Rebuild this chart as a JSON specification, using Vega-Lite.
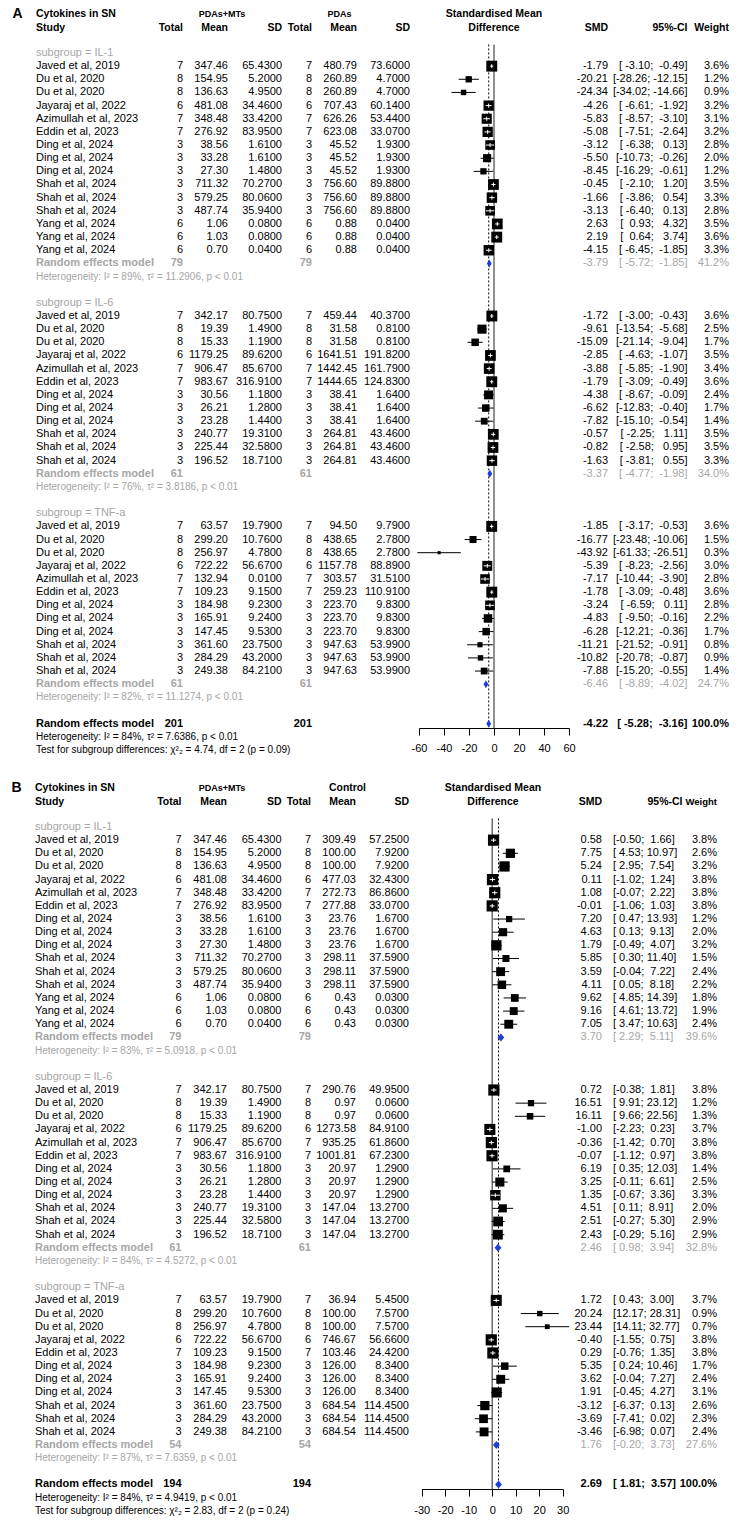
{
"$schema": "https://vega.github.io/schema/vega-lite/v6.json",
"padding": 0,
"spacing": 0,
"bounds": "flush",
"background": "white",
"config": {"view": {"stroke": null}, "text": {"font": "Liberation Sans", "baseline": "middle", "fontSize": 11}},
"datasets": {
"A": [
{"r":-2.95,"t":"cyt","l":"Cytokines in SN","pl":"A","g1":"PDAs+MTs","g2":"PDAs","fp":"Standardised Mean"},
{"r":-1.92,"t":"hdr","l":"Study","n1":"Total","m1":"Mean","s1":"SD","n2":"Total","m2":"Mean","s2":"SD","fp":"Difference","smd":"SMD","ci":"95%-CI","w":"Weight"},
{"r":0,"t":"sub","l":"subgroup = IL-1"},
{"r":1,"t":"study","l":"Javed et al, 2019","n1":7,"m1":"347.46","s1":"65.4300","n2":7,"m2":"480.79","s2":"73.6000","smd":"-1.79","ci":"[\u00a0-3.10;\u00a0\u00a0-0.49]","w":"3.6%","est":-1.79,"lo":-3.10,"hi":-0.49,"wt":3.6},
{"r":2,"t":"study","l":"Du et al, 2020","n1":8,"m1":"154.95","s1":"5.2000","n2":8,"m2":"260.89","s2":"4.7000","smd":"-20.21","ci":"[-28.26;\u00a0-12.15]","w":"1.2%","est":-20.21,"lo":-28.26,"hi":-12.15,"wt":1.2},
{"r":3,"t":"study","l":"Du et al, 2020","n1":8,"m1":"136.63","s1":"4.9500","n2":8,"m2":"260.89","s2":"4.7000","smd":"-24.34","ci":"[-34.02;\u00a0-14.66]","w":"0.9%","est":-24.34,"lo":-34.02,"hi":-14.66,"wt":0.9},
{"r":4,"t":"study","l":"Jayaraj et al, 2022","n1":6,"m1":"481.08","s1":"34.4600","n2":6,"m2":"707.43","s2":"60.1400","smd":"-4.26","ci":"[\u00a0-6.61;\u00a0\u00a0-1.92]","w":"3.2%","est":-4.26,"lo":-6.61,"hi":-1.92,"wt":3.2},
{"r":5,"t":"study","l":"Azimullah et al, 2023","n1":7,"m1":"348.48","s1":"33.4200","n2":7,"m2":"626.26","s2":"53.4400","smd":"-5.83","ci":"[\u00a0-8.57;\u00a0\u00a0-3.10]","w":"3.1%","est":-5.83,"lo":-8.57,"hi":-3.10,"wt":3.1},
{"r":6,"t":"study","l":"Eddin et al, 2023","n1":7,"m1":"276.92","s1":"83.9500","n2":7,"m2":"623.08","s2":"33.0700","smd":"-5.08","ci":"[\u00a0-7.51;\u00a0\u00a0-2.64]","w":"3.2%","est":-5.08,"lo":-7.51,"hi":-2.64,"wt":3.2},
{"r":7,"t":"study","l":"Ding et al, 2024","n1":3,"m1":"38.56","s1":"1.6100","n2":3,"m2":"45.52","s2":"1.9300","smd":"-3.12","ci":"[\u00a0-6.38;\u00a0\u00a0\u00a00.13]","w":"2.8%","est":-3.12,"lo":-6.38,"hi":0.13,"wt":2.8},
{"r":8,"t":"study","l":"Ding et al, 2024","n1":3,"m1":"33.28","s1":"1.6100","n2":3,"m2":"45.52","s2":"1.9300","smd":"-5.50","ci":"[-10.73;\u00a0\u00a0-0.26]","w":"2.0%","est":-5.50,"lo":-10.73,"hi":-0.26,"wt":2.0},
{"r":9,"t":"study","l":"Ding et al, 2024","n1":3,"m1":"27.30","s1":"1.4800","n2":3,"m2":"45.52","s2":"1.9300","smd":"-8.45","ci":"[-16.29;\u00a0\u00a0-0.61]","w":"1.2%","est":-8.45,"lo":-16.29,"hi":-0.61,"wt":1.2},
{"r":10,"t":"study","l":"Shah et al, 2024","n1":3,"m1":"711.32","s1":"70.2700","n2":3,"m2":"756.60","s2":"89.8800","smd":"-0.45","ci":"[\u00a0-2.10;\u00a0\u00a0\u00a01.20]","w":"3.5%","est":-0.45,"lo":-2.10,"hi":1.20,"wt":3.5},
{"r":11,"t":"study","l":"Shah et al, 2024","n1":3,"m1":"579.25","s1":"80.0600","n2":3,"m2":"756.60","s2":"89.8800","smd":"-1.66","ci":"[\u00a0-3.86;\u00a0\u00a0\u00a00.54]","w":"3.3%","est":-1.66,"lo":-3.86,"hi":0.54,"wt":3.3},
{"r":12,"t":"study","l":"Shah et al, 2024","n1":3,"m1":"487.74","s1":"35.9400","n2":3,"m2":"756.60","s2":"89.8800","smd":"-3.13","ci":"[\u00a0-6.40;\u00a0\u00a0\u00a00.13]","w":"2.8%","est":-3.13,"lo":-6.40,"hi":0.13,"wt":2.8},
{"r":13,"t":"study","l":"Yang et al, 2024","n1":6,"m1":"1.06","s1":"0.0800","n2":6,"m2":"0.88","s2":"0.0400","smd":"2.63","ci":"[\u00a0\u00a00.93;\u00a0\u00a0\u00a04.32]","w":"3.5%","est":2.63,"lo":0.93,"hi":4.32,"wt":3.5},
{"r":14,"t":"study","l":"Yang et al, 2024","n1":6,"m1":"1.03","s1":"0.0800","n2":6,"m2":"0.88","s2":"0.0400","smd":"2.19","ci":"[\u00a0\u00a00.64;\u00a0\u00a0\u00a03.74]","w":"3.6%","est":2.19,"lo":0.64,"hi":3.74,"wt":3.6},
{"r":15,"t":"study","l":"Yang et al, 2024","n1":6,"m1":"0.70","s1":"0.0400","n2":6,"m2":"0.88","s2":"0.0400","smd":"-4.15","ci":"[\u00a0-6.45;\u00a0\u00a0-1.85]","w":"3.3%","est":-4.15,"lo":-6.45,"hi":-1.85,"wt":3.3},
{"r":16,"t":"pool","l":"Random effects model","n1":79,"n2":79,"smd":"-3.79","ci":"[\u00a0-5.72;\u00a0\u00a0-1.85]","w":"41.2%","est":-3.79,"lo":-5.72,"hi":-1.85},
{"r":17,"t":"het","l":"Heterogeneity: I² = 89%, τ² = 11.2906, p < 0.01"},
{"r":19,"t":"sub","l":"subgroup = IL-6"},
{"r":20,"t":"study","l":"Javed et al, 2019","n1":7,"m1":"342.17","s1":"80.7500","n2":7,"m2":"459.44","s2":"40.3700","smd":"-1.72","ci":"[\u00a0-3.00;\u00a0\u00a0-0.43]","w":"3.6%","est":-1.72,"lo":-3.00,"hi":-0.43,"wt":3.6},
{"r":21,"t":"study","l":"Du et al, 2020","n1":8,"m1":"19.39","s1":"1.4900","n2":8,"m2":"31.58","s2":"0.8100","smd":"-9.61","ci":"[-13.54;\u00a0\u00a0-5.68]","w":"2.5%","est":-9.61,"lo":-13.54,"hi":-5.68,"wt":2.5},
{"r":22,"t":"study","l":"Du et al, 2020","n1":8,"m1":"15.33","s1":"1.1900","n2":8,"m2":"31.58","s2":"0.8100","smd":"-15.09","ci":"[-21.14;\u00a0\u00a0-9.04]","w":"1.7%","est":-15.09,"lo":-21.14,"hi":-9.04,"wt":1.7},
{"r":23,"t":"study","l":"Jayaraj et al, 2022","n1":6,"m1":"1179.25","s1":"89.6200","n2":6,"m2":"1641.51","s2":"191.8200","smd":"-2.85","ci":"[\u00a0-4.63;\u00a0\u00a0-1.07]","w":"3.5%","est":-2.85,"lo":-4.63,"hi":-1.07,"wt":3.5},
{"r":24,"t":"study","l":"Azimullah et al, 2023","n1":7,"m1":"906.47","s1":"85.6700","n2":7,"m2":"1442.45","s2":"161.7900","smd":"-3.88","ci":"[\u00a0-5.85;\u00a0\u00a0-1.90]","w":"3.4%","est":-3.88,"lo":-5.85,"hi":-1.90,"wt":3.4},
{"r":25,"t":"study","l":"Eddin et al, 2023","n1":7,"m1":"983.67","s1":"316.9100","n2":7,"m2":"1444.65","s2":"124.8300","smd":"-1.79","ci":"[\u00a0-3.09;\u00a0\u00a0-0.49]","w":"3.6%","est":-1.79,"lo":-3.09,"hi":-0.49,"wt":3.6},
{"r":26,"t":"study","l":"Ding et al, 2024","n1":3,"m1":"30.56","s1":"1.1800","n2":3,"m2":"38.41","s2":"1.6400","smd":"-4.38","ci":"[\u00a0-8.67;\u00a0\u00a0-0.09]","w":"2.4%","est":-4.38,"lo":-8.67,"hi":-0.09,"wt":2.4},
{"r":27,"t":"study","l":"Ding et al, 2024","n1":3,"m1":"26.21","s1":"1.2800","n2":3,"m2":"38.41","s2":"1.6400","smd":"-6.62","ci":"[-12.83;\u00a0\u00a0-0.40]","w":"1.7%","est":-6.62,"lo":-12.83,"hi":-0.40,"wt":1.7},
{"r":28,"t":"study","l":"Ding et al, 2024","n1":3,"m1":"23.28","s1":"1.4400","n2":3,"m2":"38.41","s2":"1.6400","smd":"-7.82","ci":"[-15.10;\u00a0\u00a0-0.54]","w":"1.4%","est":-7.82,"lo":-15.10,"hi":-0.54,"wt":1.4},
{"r":29,"t":"study","l":"Shah et al, 2024","n1":3,"m1":"240.77","s1":"19.3100","n2":3,"m2":"264.81","s2":"43.4600","smd":"-0.57","ci":"[\u00a0-2.25;\u00a0\u00a0\u00a01.11]","w":"3.5%","est":-0.57,"lo":-2.25,"hi":1.11,"wt":3.5},
{"r":30,"t":"study","l":"Shah et al, 2024","n1":3,"m1":"225.44","s1":"32.5800","n2":3,"m2":"264.81","s2":"43.4600","smd":"-0.82","ci":"[\u00a0-2.58;\u00a0\u00a0\u00a00.95]","w":"3.5%","est":-0.82,"lo":-2.58,"hi":0.95,"wt":3.5},
{"r":31,"t":"study","l":"Shah et al, 2024","n1":3,"m1":"196.52","s1":"18.7100","n2":3,"m2":"264.81","s2":"43.4600","smd":"-1.63","ci":"[\u00a0-3.81;\u00a0\u00a0\u00a00.55]","w":"3.3%","est":-1.63,"lo":-3.81,"hi":0.55,"wt":3.3},
{"r":32,"t":"pool","l":"Random effects model","n1":61,"n2":61,"smd":"-3.37","ci":"[\u00a0-4.77;\u00a0\u00a0-1.98]","w":"34.0%","est":-3.37,"lo":-4.77,"hi":-1.98},
{"r":33,"t":"het","l":"Heterogeneity: I² = 76%, τ² = 3.8186, p < 0.01"},
{"r":35,"t":"sub","l":"subgroup = TNF-a"},
{"r":36,"t":"study","l":"Javed et al, 2019","n1":7,"m1":"63.57","s1":"19.7900","n2":7,"m2":"94.50","s2":"9.7900","smd":"-1.85","ci":"[\u00a0-3.17;\u00a0\u00a0-0.53]","w":"3.6%","est":-1.85,"lo":-3.17,"hi":-0.53,"wt":3.6},
{"r":37,"t":"study","l":"Du et al, 2020","n1":8,"m1":"299.20","s1":"10.7600","n2":8,"m2":"438.65","s2":"2.7800","smd":"-16.77","ci":"[-23.48;\u00a0-10.06]","w":"1.5%","est":-16.77,"lo":-23.48,"hi":-10.06,"wt":1.5},
{"r":38,"t":"study","l":"Du et al, 2020","n1":8,"m1":"256.97","s1":"4.7800","n2":8,"m2":"438.65","s2":"2.7800","smd":"-43.92","ci":"[-61.33;\u00a0-26.51]","w":"0.3%","est":-43.92,"lo":-61.33,"hi":-26.51,"wt":0.3},
{"r":39,"t":"study","l":"Jayaraj et al, 2022","n1":6,"m1":"722.22","s1":"56.6700","n2":6,"m2":"1157.78","s2":"88.8900","smd":"-5.39","ci":"[\u00a0-8.23;\u00a0\u00a0-2.56]","w":"3.0%","est":-5.39,"lo":-8.23,"hi":-2.56,"wt":3.0},
{"r":40,"t":"study","l":"Azimullah et al, 2023","n1":7,"m1":"132.94","s1":"0.0100","n2":7,"m2":"303.57","s2":"31.5100","smd":"-7.17","ci":"[-10.44;\u00a0\u00a0-3.90]","w":"2.8%","est":-7.17,"lo":-10.44,"hi":-3.90,"wt":2.8},
{"r":41,"t":"study","l":"Eddin et al, 2023","n1":7,"m1":"109.23","s1":"9.1500","n2":7,"m2":"259.23","s2":"110.9100","smd":"-1.78","ci":"[\u00a0-3.09;\u00a0\u00a0-0.48]","w":"3.6%","est":-1.78,"lo":-3.09,"hi":-0.48,"wt":3.6},
{"r":42,"t":"study","l":"Ding et al, 2024","n1":3,"m1":"184.98","s1":"9.2300","n2":3,"m2":"223.70","s2":"9.8300","smd":"-3.24","ci":"[\u00a0-6.59;\u00a0\u00a0\u00a00.11]","w":"2.8%","est":-3.24,"lo":-6.59,"hi":0.11,"wt":2.8},
{"r":43,"t":"study","l":"Ding et al, 2024","n1":3,"m1":"165.91","s1":"9.2400","n2":3,"m2":"223.70","s2":"9.8300","smd":"-4.83","ci":"[\u00a0-9.50;\u00a0\u00a0-0.16]","w":"2.2%","est":-4.83,"lo":-9.50,"hi":-0.16,"wt":2.2},
{"r":44,"t":"study","l":"Ding et al, 2024","n1":3,"m1":"147.45","s1":"9.5300","n2":3,"m2":"223.70","s2":"9.8300","smd":"-6.28","ci":"[-12.21;\u00a0\u00a0-0.36]","w":"1.7%","est":-6.28,"lo":-12.21,"hi":-0.36,"wt":1.7},
{"r":45,"t":"study","l":"Shah et al, 2024","n1":3,"m1":"361.60","s1":"23.7500","n2":3,"m2":"947.63","s2":"53.9900","smd":"-11.21","ci":"[-21.52;\u00a0\u00a0-0.91]","w":"0.8%","est":-11.21,"lo":-21.52,"hi":-0.91,"wt":0.8},
{"r":46,"t":"study","l":"Shah et al, 2024","n1":3,"m1":"284.29","s1":"43.2000","n2":3,"m2":"947.63","s2":"53.9900","smd":"-10.82","ci":"[-20.78;\u00a0\u00a0-0.87]","w":"0.9%","est":-10.82,"lo":-20.78,"hi":-0.87,"wt":0.9},
{"r":47,"t":"study","l":"Shah et al, 2024","n1":3,"m1":"249.38","s1":"84.2100","n2":3,"m2":"947.63","s2":"53.9900","smd":"-7.88","ci":"[-15.20;\u00a0\u00a0-0.55]","w":"1.4%","est":-7.88,"lo":-15.20,"hi":-0.55,"wt":1.4},
{"r":48,"t":"pool","l":"Random effects model","n1":61,"n2":61,"smd":"-6.46","ci":"[\u00a0-8.89;\u00a0\u00a0-4.02]","w":"24.7%","est":-6.46,"lo":-8.89,"hi":-4.02},
{"r":49,"t":"het","l":"Heterogeneity: I² = 82%, τ² = 11.1274, p < 0.01"},
{"r":51,"t":"all","l":"Random effects model","n1":201,"n2":201,"smd":"-4.22","ci":"[\u00a0-5.28;\u00a0\u00a0-3.16]","w":"100.0%","est":-4.22,"lo":-5.28,"hi":-3.16},
{"r":52,"t":"allhet","l":"Heterogeneity: I² = 84%, τ² = 7.6386, p < 0.01"},
{"r":53,"t":"test","l":"Test for subgroup differences: χ²₂ = 4.74, df = 2 (p = 0.09)"}
],
"B": [
{"r":-2.95,"t":"cyt","l":"Cytokines in SN","pl":"B","g1":"PDAs+MTs","g2":"Control","fp":"Standardised Mean"},
{"r":-1.92,"t":"hdr","l":"Study","n1":"Total","m1":"Mean","s1":"SD","n2":"Total","m2":"Mean","s2":"SD","fp":"Difference","smd":"SMD","ci":"95%-CI","w":"Weight"},
{"r":0,"t":"sub","l":"subgroup = IL-1"},
{"r":1,"t":"study","l":"Javed et al, 2019","n1":7,"m1":"347.46","s1":"65.4300","n2":7,"m2":"309.49","s2":"57.2500","smd":"0.58","ci":"[-0.50;\u00a0\u00a01.66]","w":"3.8%","est":0.58,"lo":-0.50,"hi":1.66,"wt":3.8},
{"r":2,"t":"study","l":"Du et al, 2020","n1":8,"m1":"154.95","s1":"5.2000","n2":8,"m2":"100.00","s2":"7.9200","smd":"7.75","ci":"[\u00a04.53;\u00a010.97]","w":"2.6%","est":7.75,"lo":4.53,"hi":10.97,"wt":2.6},
{"r":3,"t":"study","l":"Du et al, 2020","n1":8,"m1":"136.63","s1":"4.9500","n2":8,"m2":"100.00","s2":"7.9200","smd":"5.24","ci":"[\u00a02.95;\u00a0\u00a07.54]","w":"3.2%","est":5.24,"lo":2.95,"hi":7.54,"wt":3.2},
{"r":4,"t":"study","l":"Jayaraj et al, 2022","n1":6,"m1":"481.08","s1":"34.4600","n2":6,"m2":"477.03","s2":"32.4300","smd":"0.11","ci":"[-1.02;\u00a0\u00a01.24]","w":"3.8%","est":0.11,"lo":-1.02,"hi":1.24,"wt":3.8},
{"r":5,"t":"study","l":"Azimullah et al, 2023","n1":7,"m1":"348.48","s1":"33.4200","n2":7,"m2":"272.73","s2":"86.8600","smd":"1.08","ci":"[-0.07;\u00a0\u00a02.22]","w":"3.8%","est":1.08,"lo":-0.07,"hi":2.22,"wt":3.8},
{"r":6,"t":"study","l":"Eddin et al, 2023","n1":7,"m1":"276.92","s1":"83.9500","n2":7,"m2":"277.88","s2":"33.0700","smd":"-0.01","ci":"[-1.06;\u00a0\u00a01.03]","w":"3.8%","est":-0.01,"lo":-1.06,"hi":1.03,"wt":3.8},
{"r":7,"t":"study","l":"Ding et al, 2024","n1":3,"m1":"38.56","s1":"1.6100","n2":3,"m2":"23.76","s2":"1.6700","smd":"7.20","ci":"[\u00a00.47;\u00a013.93]","w":"1.2%","est":7.20,"lo":0.47,"hi":13.93,"wt":1.2},
{"r":8,"t":"study","l":"Ding et al, 2024","n1":3,"m1":"33.28","s1":"1.6100","n2":3,"m2":"23.76","s2":"1.6700","smd":"4.63","ci":"[\u00a00.13;\u00a0\u00a09.13]","w":"2.0%","est":4.63,"lo":0.13,"hi":9.13,"wt":2.0},
{"r":9,"t":"study","l":"Ding et al, 2024","n1":3,"m1":"27.30","s1":"1.4800","n2":3,"m2":"23.76","s2":"1.6700","smd":"1.79","ci":"[-0.49;\u00a0\u00a04.07]","w":"3.2%","est":1.79,"lo":-0.49,"hi":4.07,"wt":3.2},
{"r":10,"t":"study","l":"Shah et al, 2024","n1":3,"m1":"711.32","s1":"70.2700","n2":3,"m2":"298.11","s2":"37.5900","smd":"5.85","ci":"[\u00a00.30;\u00a011.40]","w":"1.5%","est":5.85,"lo":0.30,"hi":11.40,"wt":1.5},
{"r":11,"t":"study","l":"Shah et al, 2024","n1":3,"m1":"579.25","s1":"80.0600","n2":3,"m2":"298.11","s2":"37.5900","smd":"3.59","ci":"[-0.04;\u00a0\u00a07.22]","w":"2.4%","est":3.59,"lo":-0.04,"hi":7.22,"wt":2.4},
{"r":12,"t":"study","l":"Shah et al, 2024","n1":3,"m1":"487.74","s1":"35.9400","n2":3,"m2":"298.11","s2":"37.5900","smd":"4.11","ci":"[\u00a00.05;\u00a0\u00a08.18]","w":"2.2%","est":4.11,"lo":0.05,"hi":8.18,"wt":2.2},
{"r":13,"t":"study","l":"Yang et al, 2024","n1":6,"m1":"1.06","s1":"0.0800","n2":6,"m2":"0.43","s2":"0.0300","smd":"9.62","ci":"[\u00a04.85;\u00a014.39]","w":"1.8%","est":9.62,"lo":4.85,"hi":14.39,"wt":1.8},
{"r":14,"t":"study","l":"Yang et al, 2024","n1":6,"m1":"1.03","s1":"0.0800","n2":6,"m2":"0.43","s2":"0.0300","smd":"9.16","ci":"[\u00a04.61;\u00a013.72]","w":"1.9%","est":9.16,"lo":4.61,"hi":13.72,"wt":1.9},
{"r":15,"t":"study","l":"Yang et al, 2024","n1":6,"m1":"0.70","s1":"0.0400","n2":6,"m2":"0.43","s2":"0.0300","smd":"7.05","ci":"[\u00a03.47;\u00a010.63]","w":"2.4%","est":7.05,"lo":3.47,"hi":10.63,"wt":2.4},
{"r":16,"t":"pool","l":"Random effects model","n1":79,"n2":79,"smd":"3.70","ci":"[\u00a02.29;\u00a0\u00a05.11]","w":"39.6%","est":3.70,"lo":2.29,"hi":5.11},
{"r":17,"t":"het","l":"Heterogeneity: I² = 83%, τ² = 5.0918, p < 0.01"},
{"r":19,"t":"sub","l":"subgroup = IL-6"},
{"r":20,"t":"study","l":"Javed et al, 2019","n1":7,"m1":"342.17","s1":"80.7500","n2":7,"m2":"290.76","s2":"49.9500","smd":"0.72","ci":"[-0.38;\u00a0\u00a01.81]","w":"3.8%","est":0.72,"lo":-0.38,"hi":1.81,"wt":3.8},
{"r":21,"t":"study","l":"Du et al, 2020","n1":8,"m1":"19.39","s1":"1.4900","n2":8,"m2":"0.97","s2":"0.0600","smd":"16.51","ci":"[\u00a09.91;\u00a023.12]","w":"1.2%","est":16.51,"lo":9.91,"hi":23.12,"wt":1.2},
{"r":22,"t":"study","l":"Du et al, 2020","n1":8,"m1":"15.33","s1":"1.1900","n2":8,"m2":"0.97","s2":"0.0600","smd":"16.11","ci":"[\u00a09.66;\u00a022.56]","w":"1.3%","est":16.11,"lo":9.66,"hi":22.56,"wt":1.3},
{"r":23,"t":"study","l":"Jayaraj et al, 2022","n1":6,"m1":"1179.25","s1":"89.6200","n2":6,"m2":"1273.58","s2":"84.9100","smd":"-1.00","ci":"[-2.23;\u00a0\u00a00.23]","w":"3.7%","est":-1.00,"lo":-2.23,"hi":0.23,"wt":3.7},
{"r":24,"t":"study","l":"Azimullah et al, 2023","n1":7,"m1":"906.47","s1":"85.6700","n2":7,"m2":"935.25","s2":"61.8600","smd":"-0.36","ci":"[-1.42;\u00a0\u00a00.70]","w":"3.8%","est":-0.36,"lo":-1.42,"hi":0.70,"wt":3.8},
{"r":25,"t":"study","l":"Eddin et al, 2023","n1":7,"m1":"983.67","s1":"316.9100","n2":7,"m2":"1001.81","s2":"67.2300","smd":"-0.07","ci":"[-1.12;\u00a0\u00a00.97]","w":"3.8%","est":-0.07,"lo":-1.12,"hi":0.97,"wt":3.8},
{"r":26,"t":"study","l":"Ding et al, 2024","n1":3,"m1":"30.56","s1":"1.1800","n2":3,"m2":"20.97","s2":"1.2900","smd":"6.19","ci":"[\u00a00.35;\u00a012.03]","w":"1.4%","est":6.19,"lo":0.35,"hi":12.03,"wt":1.4},
{"r":27,"t":"study","l":"Ding et al, 2024","n1":3,"m1":"26.21","s1":"1.2800","n2":3,"m2":"20.97","s2":"1.2900","smd":"3.25","ci":"[-0.11;\u00a0\u00a06.61]","w":"2.5%","est":3.25,"lo":-0.11,"hi":6.61,"wt":2.5},
{"r":28,"t":"study","l":"Ding et al, 2024","n1":3,"m1":"23.28","s1":"1.4400","n2":3,"m2":"20.97","s2":"1.2900","smd":"1.35","ci":"[-0.67;\u00a0\u00a03.36]","w":"3.3%","est":1.35,"lo":-0.67,"hi":3.36,"wt":3.3},
{"r":29,"t":"study","l":"Shah et al, 2024","n1":3,"m1":"240.77","s1":"19.3100","n2":3,"m2":"147.04","s2":"13.2700","smd":"4.51","ci":"[\u00a00.11;\u00a0\u00a08.91]","w":"2.0%","est":4.51,"lo":0.11,"hi":8.91,"wt":2.0},
{"r":30,"t":"study","l":"Shah et al, 2024","n1":3,"m1":"225.44","s1":"32.5800","n2":3,"m2":"147.04","s2":"13.2700","smd":"2.51","ci":"[-0.27;\u00a0\u00a05.30]","w":"2.9%","est":2.51,"lo":-0.27,"hi":5.30,"wt":2.9},
{"r":31,"t":"study","l":"Shah et al, 2024","n1":3,"m1":"196.52","s1":"18.7100","n2":3,"m2":"147.04","s2":"13.2700","smd":"2.43","ci":"[-0.29;\u00a0\u00a05.16]","w":"2.9%","est":2.43,"lo":-0.29,"hi":5.16,"wt":2.9},
{"r":32,"t":"pool","l":"Random effects model","n1":61,"n2":61,"smd":"2.46","ci":"[\u00a00.98;\u00a0\u00a03.94]","w":"32.8%","est":2.46,"lo":0.98,"hi":3.94},
{"r":33,"t":"het","l":"Heterogeneity: I² = 84%, τ² = 4.5272, p < 0.01"},
{"r":35,"t":"sub","l":"subgroup = TNF-a"},
{"r":36,"t":"study","l":"Javed et al, 2019","n1":7,"m1":"63.57","s1":"19.7900","n2":7,"m2":"36.94","s2":"5.4500","smd":"1.72","ci":"[\u00a00.43;\u00a0\u00a03.00]","w":"3.7%","est":1.72,"lo":0.43,"hi":3.00,"wt":3.7},
{"r":37,"t":"study","l":"Du et al, 2020","n1":8,"m1":"299.20","s1":"10.7600","n2":8,"m2":"100.00","s2":"7.5700","smd":"20.24","ci":"[12.17;\u00a028.31]","w":"0.9%","est":20.24,"lo":12.17,"hi":28.31,"wt":0.9},
{"r":38,"t":"study","l":"Du et al, 2020","n1":8,"m1":"256.97","s1":"4.7800","n2":8,"m2":"100.00","s2":"7.5700","smd":"23.44","ci":"[14.11;\u00a032.77]","w":"0.7%","est":23.44,"lo":14.11,"hi":32.77,"wt":0.7},
{"r":39,"t":"study","l":"Jayaraj et al, 2022","n1":6,"m1":"722.22","s1":"56.6700","n2":6,"m2":"746.67","s2":"56.6600","smd":"-0.40","ci":"[-1.55;\u00a0\u00a00.75]","w":"3.8%","est":-0.40,"lo":-1.55,"hi":0.75,"wt":3.8},
{"r":40,"t":"study","l":"Eddin et al, 2023","n1":7,"m1":"109.23","s1":"9.1500","n2":7,"m2":"103.46","s2":"24.4200","smd":"0.29","ci":"[-0.76;\u00a0\u00a01.35]","w":"3.8%","est":0.29,"lo":-0.76,"hi":1.35,"wt":3.8},
{"r":41,"t":"study","l":"Ding et al, 2024","n1":3,"m1":"184.98","s1":"9.2300","n2":3,"m2":"126.00","s2":"8.3400","smd":"5.35","ci":"[\u00a00.24;\u00a010.46]","w":"1.7%","est":5.35,"lo":0.24,"hi":10.46,"wt":1.7},
{"r":42,"t":"study","l":"Ding et al, 2024","n1":3,"m1":"165.91","s1":"9.2400","n2":3,"m2":"126.00","s2":"8.3400","smd":"3.62","ci":"[-0.04;\u00a0\u00a07.27]","w":"2.4%","est":3.62,"lo":-0.04,"hi":7.27,"wt":2.4},
{"r":43,"t":"study","l":"Ding et al, 2024","n1":3,"m1":"147.45","s1":"9.5300","n2":3,"m2":"126.00","s2":"8.3400","smd":"1.91","ci":"[-0.45;\u00a0\u00a04.27]","w":"3.1%","est":1.91,"lo":-0.45,"hi":4.27,"wt":3.1},
{"r":44,"t":"study","l":"Shah et al, 2024","n1":3,"m1":"361.60","s1":"23.7500","n2":3,"m2":"684.54","s2":"114.4500","smd":"-3.12","ci":"[-6.37;\u00a0\u00a00.13]","w":"2.6%","est":-3.12,"lo":-6.37,"hi":0.13,"wt":2.6},
{"r":45,"t":"study","l":"Shah et al, 2024","n1":3,"m1":"284.29","s1":"43.2000","n2":3,"m2":"684.54","s2":"114.4500","smd":"-3.69","ci":"[-7.41;\u00a0\u00a00.02]","w":"2.3%","est":-3.69,"lo":-7.41,"hi":0.02,"wt":2.3},
{"r":46,"t":"study","l":"Shah et al, 2024","n1":3,"m1":"249.38","s1":"84.2100","n2":3,"m2":"684.54","s2":"114.4500","smd":"-3.46","ci":"[-6.98;\u00a0\u00a00.07]","w":"2.4%","est":-3.46,"lo":-6.98,"hi":0.07,"wt":2.4},
{"r":47,"t":"pool","l":"Random effects model","n1":54,"n2":54,"smd":"1.76","ci":"[-0.20;\u00a0\u00a03.73]","w":"27.6%","est":1.76,"lo":-0.20,"hi":3.73},
{"r":48,"t":"het","l":"Heterogeneity: I² = 87%, τ² = 7.6359, p < 0.01"},
{"r":50,"t":"all","l":"Random effects model","n1":194,"n2":194,"smd":"2.69","ci":"[\u00a01.81;\u00a0\u00a03.57]","w":"100.0%","est":2.69,"lo":1.81,"hi":3.57},
{"r":51,"t":"allhet","l":"Heterogeneity: I² = 84%, τ² = 4.9419, p < 0.01"},
{"r":52,"t":"test","l":"Test for subgroup differences: χ²₂ = 2.83, df = 2 (p = 0.24)"}
]
},
"vconcat": [
{
"width": 740, "height": 758,
"data": {"name": "A"},
"encoding": {"y": {"field": "r", "type": "quantitative", "axis": null, "scale": {"domain": [-4.03, 53.612], "reverse": true, "nice": false, "zero": false}}},
"resolve": {"scale": {"x": "independent"}},
"layer": [
{
"encoding": {
"color": {"condition": {"test": "datum.t=='sub'||datum.t=='het'||datum.t=='pool'", "value": "#a6a6a6"}, "value": "#000000"},
"size": {"condition": [{"test": "datum.t=='hdr'||datum.t=='cyt'", "value": 10.5}, {"test": "datum.t=='het'||datum.t=='allhet'||datum.t=='test'", "value": 10}], "value": 11}
},
"layer": [
{"transform": [{"filter": "datum.t=='cyt'"}], "mark": {"type": "text", "align": "left", "fontWeight": "bold"}, "encoding": {"x": {"datum": 12.5, "type": "quantitative", "scale": {"domain": [0, 740], "nice": false, "zero": false}, "axis": null}, "text": {"field": "pl"}, "size": {"value": 14}}},
{"transform": [{"filter": "datum.t=='cyt'"}], "mark": {"type": "text", "align": "center", "fontWeight": "bold"}, "encoding": {"x": {"datum": 222, "type": "quantitative", "scale": {"domain": [0, 740], "nice": false, "zero": false}, "axis": null}, "text": {"field": "g1"}, "size": {"value": 9}}},
{"transform": [{"filter": "datum.t=='cyt'"}], "mark": {"type": "text", "align": "center", "fontWeight": "bold"}, "encoding": {"x": {"datum": 339.5, "type": "quantitative", "scale": {"domain": [0, 740], "nice": false, "zero": false}, "axis": null}, "text": {"field": "g2"}, "size": {"value": 9}}},
{"transform": [{"filter": "datum.t=='cyt'||datum.t=='hdr'"}], "mark": {"type": "text", "align": "center", "fontWeight": "bold"}, "encoding": {"x": {"datum": 494, "type": "quantitative", "scale": {"domain": [0, 740], "nice": false, "zero": false}, "axis": null}, "text": {"field": "fp"}}},
{"transform": [{"filter": "datum.t=='study'||datum.t=='sub'||datum.t=='het'||datum.t=='allhet'||datum.t=='test'"}], "mark": {"type": "text", "align": "left"}, "encoding": {"x": {"datum": 36, "type": "quantitative", "scale": {"domain": [0, 740], "nice": false, "zero": false}, "axis": null}, "text": {"field": "l"}}},
{"transform": [{"filter": "datum.t=='cyt'||datum.t=='hdr'||datum.t=='pool'||datum.t=='all'"}], "mark": {"type": "text", "align": "left", "fontWeight": "bold"}, "encoding": {"x": {"datum": 36, "type": "quantitative", "scale": {"domain": [0, 740], "nice": false, "zero": false}, "axis": null}, "text": {"field": "l"}}},
{"transform": [{"filter": "datum.t=='study'"}], "mark": {"type": "text", "align": "right"}, "encoding": {"x": {"datum": 183, "type": "quantitative", "scale": {"domain": [0, 740], "nice": false, "zero": false}, "axis": null}, "text": {"field": "n1"}}},
{"transform": [{"filter": "datum.t=='hdr'||datum.t=='pool'||datum.t=='all'"}], "mark": {"type": "text", "align": "right", "fontWeight": "bold"}, "encoding": {"x": {"datum": 183, "type": "quantitative", "scale": {"domain": [0, 740], "nice": false, "zero": false}, "axis": null}, "text": {"field": "n1"}}},
{"transform": [{"filter": "datum.t=='study'"}], "mark": {"type": "text", "align": "right"}, "encoding": {"x": {"datum": 228, "type": "quantitative", "scale": {"domain": [0, 740], "nice": false, "zero": false}, "axis": null}, "text": {"field": "m1"}}},
{"transform": [{"filter": "datum.t=='hdr'"}], "mark": {"type": "text", "align": "right", "fontWeight": "bold"}, "encoding": {"x": {"datum": 228, "type": "quantitative", "scale": {"domain": [0, 740], "nice": false, "zero": false}, "axis": null}, "text": {"field": "m1"}}},
{"transform": [{"filter": "datum.t=='study'"}], "mark": {"type": "text", "align": "right"}, "encoding": {"x": {"datum": 282, "type": "quantitative", "scale": {"domain": [0, 740], "nice": false, "zero": false}, "axis": null}, "text": {"field": "s1"}}},
{"transform": [{"filter": "datum.t=='hdr'"}], "mark": {"type": "text", "align": "right", "fontWeight": "bold"}, "encoding": {"x": {"datum": 282, "type": "quantitative", "scale": {"domain": [0, 740], "nice": false, "zero": false}, "axis": null}, "text": {"field": "s1"}}},
{"transform": [{"filter": "datum.t=='study'"}], "mark": {"type": "text", "align": "right"}, "encoding": {"x": {"datum": 312, "type": "quantitative", "scale": {"domain": [0, 740], "nice": false, "zero": false}, "axis": null}, "text": {"field": "n2"}}},
{"transform": [{"filter": "datum.t=='hdr'||datum.t=='pool'||datum.t=='all'"}], "mark": {"type": "text", "align": "right", "fontWeight": "bold"}, "encoding": {"x": {"datum": 312, "type": "quantitative", "scale": {"domain": [0, 740], "nice": false, "zero": false}, "axis": null}, "text": {"field": "n2"}}},
{"transform": [{"filter": "datum.t=='study'"}], "mark": {"type": "text", "align": "right"}, "encoding": {"x": {"datum": 357, "type": "quantitative", "scale": {"domain": [0, 740], "nice": false, "zero": false}, "axis": null}, "text": {"field": "m2"}}},
{"transform": [{"filter": "datum.t=='hdr'"}], "mark": {"type": "text", "align": "right", "fontWeight": "bold"}, "encoding": {"x": {"datum": 357, "type": "quantitative", "scale": {"domain": [0, 740], "nice": false, "zero": false}, "axis": null}, "text": {"field": "m2"}}},
{"transform": [{"filter": "datum.t=='study'"}], "mark": {"type": "text", "align": "right"}, "encoding": {"x": {"datum": 410, "type": "quantitative", "scale": {"domain": [0, 740], "nice": false, "zero": false}, "axis": null}, "text": {"field": "s2"}}},
{"transform": [{"filter": "datum.t=='hdr'"}], "mark": {"type": "text", "align": "right", "fontWeight": "bold"}, "encoding": {"x": {"datum": 410, "type": "quantitative", "scale": {"domain": [0, 740], "nice": false, "zero": false}, "axis": null}, "text": {"field": "s2"}}},
{"transform": [{"filter": "datum.t=='study'||datum.t=='pool'"}], "mark": {"type": "text", "align": "right"}, "encoding": {"x": {"datum": 608, "type": "quantitative", "scale": {"domain": [0, 740], "nice": false, "zero": false}, "axis": null}, "text": {"field": "smd"}}},
{"transform": [{"filter": "datum.t=='hdr'||datum.t=='all'"}], "mark": {"type": "text", "align": "right", "fontWeight": "bold"}, "encoding": {"x": {"datum": 608, "type": "quantitative", "scale": {"domain": [0, 740], "nice": false, "zero": false}, "axis": null}, "text": {"field": "smd"}}},
{"transform": [{"filter": "datum.t=='study'||datum.t=='pool'"}], "mark": {"type": "text", "align": "right"}, "encoding": {"x": {"datum": 687.5, "type": "quantitative", "scale": {"domain": [0, 740], "nice": false, "zero": false}, "axis": null}, "text": {"field": "ci"}}},
{"transform": [{"filter": "datum.t=='hdr'||datum.t=='all'"}], "mark": {"type": "text", "align": "right", "fontWeight": "bold"}, "encoding": {"x": {"datum": 687.5, "type": "quantitative", "scale": {"domain": [0, 740], "nice": false, "zero": false}, "axis": null}, "text": {"field": "ci"}}},
{"transform": [{"filter": "datum.t=='study'||datum.t=='pool'"}], "mark": {"type": "text", "align": "right"}, "encoding": {"x": {"datum": 729, "type": "quantitative", "scale": {"domain": [0, 740], "nice": false, "zero": false}, "axis": null}, "text": {"field": "w"}}},
{"transform": [{"filter": "datum.t=='hdr'||datum.t=='all'"}], "mark": {"type": "text", "align": "right", "fontWeight": "bold"}, "encoding": {"x": {"datum": 729, "type": "quantitative", "scale": {"domain": [0, 740], "nice": false, "zero": false}, "axis": null}, "text": {"field": "w"}}}
]
},
{
"resolve": {"scale": {"size": "independent"}},
"layer": [
{"transform": [{"filter": "datum.t=='all'"}], "mark": {"type": "rule", "color": "#555555", "strokeWidth": 1.3}, "encoding": {"x": {"datum": 0, "type": "quantitative", "scale": {"domain": [-60, 60], "range": [419, 569], "nice": false, "zero": false}, "axis": {"values": [-60, -40, -20, 0, 20, 40, 60], "offset": -30, "title": null, "grid": false, "tickSize": 7, "tickWidth": 1, "tickColor": "#000000", "domainColor": "#000000", "domainWidth": 1, "labelColor": "#000000", "labelFontSize": 11, "labelFont": "Liberation Sans", "labelPadding": 7, "labelFlush": false, "labelOverlap": false, "labelExpr": "replace(datum.label, '\u2212', '-')"}}, "y": {"datum": -0.65, "type": "quantitative", "axis": null}, "y2": {"datum": 51.35}}},
{"transform": [{"filter": "datum.t=='all'"}], "mark": {"type": "rule", "color": "#000000", "strokeWidth": 1, "strokeDash": [2, 2]}, "encoding": {"x": {"field": "est", "type": "quantitative", "axis": {"title": null}}, "y": {"datum": -0.65, "type": "quantitative", "axis": null}, "y2": {"datum": 51.35}}},
{"transform": [{"filter": "datum.t=='study'"}], "mark": {"type": "rule", "color": "#000000", "strokeWidth": 1}, "encoding": {"x": {"field": "lo", "type": "quantitative", "axis": {"title": null}}, "x2": {"field": "hi"}}},
{"transform": [{"filter": "datum.t=='study'"}], "mark": {"type": "point", "shape": "square", "filled": true, "color": "#000000", "opacity": 1, "strokeWidth": 0}, "encoding": {"x": {"field": "est", "type": "quantitative", "axis": {"title": null}}, "size": {"field": "wt", "type": "quantitative", "scale": {"domain": [0, 4], "range": [0, 132]}, "legend": null}}},
{"transform": [{"filter": "datum.t=='study' && (datum.hi-datum.lo)*1.25 < sqrt(33*datum.wt)"}], "mark": {"type": "rule", "color": "#ffffff", "strokeWidth": 1}, "encoding": {"x": {"field": "lo", "type": "quantitative", "axis": {"title": null}}, "x2": {"field": "hi"}}},
{"transform": [{"filter": "datum.t=='study' && (datum.hi-datum.lo)*1.25 < sqrt(33*datum.wt)"}], "mark": {"type": "point", "shape": "M0,-1L0,1", "filled": false, "stroke": "#ffffff", "strokeWidth": 1, "opacity": 1}, "encoding": {"x": {"field": "est", "type": "quantitative", "axis": {"title": null}}, "size": {"value": 16}}},
{"transform": [{"filter": "datum.t=='pool'||datum.t=='all'"}], "mark": {"type": "point", "shape": "M-0.6,0L0,-1L0.6,0L0,1Z", "filled": true, "color": "#1f3fd0", "opacity": 1, "strokeWidth": 0}, "encoding": {"x": {"field": "est", "type": "quantitative", "axis": {"title": null}}, "size": {"value": 64}}}
]
}
]
},
{
"width": 740, "height": 769,
"data": {"name": "B"},
"encoding": {"y": {"field": "r", "type": "quantitative", "axis": null, "scale": {"domain": [-5.247, 53.232], "reverse": true, "nice": false, "zero": false}}},
"resolve": {"scale": {"x": "independent"}},
"layer": [
{
"encoding": {
"color": {"condition": {"test": "datum.t=='sub'||datum.t=='het'||datum.t=='pool'", "value": "#a6a6a6"}, "value": "#000000"},
"size": {"condition": [{"test": "datum.t=='hdr'||datum.t=='cyt'", "value": 10.5}, {"test": "datum.t=='het'||datum.t=='allhet'||datum.t=='test'", "value": 10}], "value": 11}
},
"layer": [
{"transform": [{"filter": "datum.t=='cyt'"}], "mark": {"type": "text", "align": "left", "fontWeight": "bold"}, "encoding": {"x": {"datum": 11.5, "type": "quantitative", "scale": {"domain": [0, 740], "nice": false, "zero": false}, "axis": null}, "text": {"field": "pl"}, "size": {"value": 14}}},
{"transform": [{"filter": "datum.t=='cyt'"}], "mark": {"type": "text", "align": "center", "fontWeight": "bold"}, "encoding": {"x": {"datum": 222, "type": "quantitative", "scale": {"domain": [0, 740], "nice": false, "zero": false}, "axis": null}, "text": {"field": "g1"}, "size": {"value": 9}}},
{"transform": [{"filter": "datum.t=='cyt'"}], "mark": {"type": "text", "align": "center", "fontWeight": "bold"}, "encoding": {"x": {"datum": 347.5, "type": "quantitative", "scale": {"domain": [0, 740], "nice": false, "zero": false}, "axis": null}, "text": {"field": "g2"}, "size": {"value": 10.4}}},
{"transform": [{"filter": "datum.t=='cyt'||datum.t=='hdr'"}], "mark": {"type": "text", "align": "center", "fontWeight": "bold"}, "encoding": {"x": {"datum": 493, "type": "quantitative", "scale": {"domain": [0, 740], "nice": false, "zero": false}, "axis": null}, "text": {"field": "fp"}}},
{"transform": [{"filter": "datum.t=='study'||datum.t=='sub'||datum.t=='het'||datum.t=='allhet'||datum.t=='test'"}], "mark": {"type": "text", "align": "left"}, "encoding": {"x": {"datum": 35, "type": "quantitative", "scale": {"domain": [0, 740], "nice": false, "zero": false}, "axis": null}, "text": {"field": "l"}}},
{"transform": [{"filter": "datum.t=='cyt'||datum.t=='hdr'||datum.t=='pool'||datum.t=='all'"}], "mark": {"type": "text", "align": "left", "fontWeight": "bold"}, "encoding": {"x": {"datum": 35, "type": "quantitative", "scale": {"domain": [0, 740], "nice": false, "zero": false}, "axis": null}, "text": {"field": "l"}}},
{"transform": [{"filter": "datum.t=='study'"}], "mark": {"type": "text", "align": "right"}, "encoding": {"x": {"datum": 181.5, "type": "quantitative", "scale": {"domain": [0, 740], "nice": false, "zero": false}, "axis": null}, "text": {"field": "n1"}}},
{"transform": [{"filter": "datum.t=='hdr'||datum.t=='pool'||datum.t=='all'"}], "mark": {"type": "text", "align": "right", "fontWeight": "bold"}, "encoding": {"x": {"datum": 181.5, "type": "quantitative", "scale": {"domain": [0, 740], "nice": false, "zero": false}, "axis": null}, "text": {"field": "n1"}}},
{"transform": [{"filter": "datum.t=='study'"}], "mark": {"type": "text", "align": "right"}, "encoding": {"x": {"datum": 227, "type": "quantitative", "scale": {"domain": [0, 740], "nice": false, "zero": false}, "axis": null}, "text": {"field": "m1"}}},
{"transform": [{"filter": "datum.t=='hdr'"}], "mark": {"type": "text", "align": "right", "fontWeight": "bold"}, "encoding": {"x": {"datum": 227, "type": "quantitative", "scale": {"domain": [0, 740], "nice": false, "zero": false}, "axis": null}, "text": {"field": "m1"}}},
{"transform": [{"filter": "datum.t=='study'"}], "mark": {"type": "text", "align": "right"}, "encoding": {"x": {"datum": 281.5, "type": "quantitative", "scale": {"domain": [0, 740], "nice": false, "zero": false}, "axis": null}, "text": {"field": "s1"}}},
{"transform": [{"filter": "datum.t=='hdr'"}], "mark": {"type": "text", "align": "right", "fontWeight": "bold"}, "encoding": {"x": {"datum": 281.5, "type": "quantitative", "scale": {"domain": [0, 740], "nice": false, "zero": false}, "axis": null}, "text": {"field": "s1"}}},
{"transform": [{"filter": "datum.t=='study'"}], "mark": {"type": "text", "align": "right"}, "encoding": {"x": {"datum": 311, "type": "quantitative", "scale": {"domain": [0, 740], "nice": false, "zero": false}, "axis": null}, "text": {"field": "n2"}}},
{"transform": [{"filter": "datum.t=='hdr'||datum.t=='pool'||datum.t=='all'"}], "mark": {"type": "text", "align": "right", "fontWeight": "bold"}, "encoding": {"x": {"datum": 311, "type": "quantitative", "scale": {"domain": [0, 740], "nice": false, "zero": false}, "axis": null}, "text": {"field": "n2"}}},
{"transform": [{"filter": "datum.t=='study'"}], "mark": {"type": "text", "align": "right"}, "encoding": {"x": {"datum": 356, "type": "quantitative", "scale": {"domain": [0, 740], "nice": false, "zero": false}, "axis": null}, "text": {"field": "m2"}}},
{"transform": [{"filter": "datum.t=='hdr'"}], "mark": {"type": "text", "align": "right", "fontWeight": "bold"}, "encoding": {"x": {"datum": 356, "type": "quantitative", "scale": {"domain": [0, 740], "nice": false, "zero": false}, "axis": null}, "text": {"field": "m2"}}},
{"transform": [{"filter": "datum.t=='study'"}], "mark": {"type": "text", "align": "right"}, "encoding": {"x": {"datum": 409, "type": "quantitative", "scale": {"domain": [0, 740], "nice": false, "zero": false}, "axis": null}, "text": {"field": "s2"}}},
{"transform": [{"filter": "datum.t=='hdr'"}], "mark": {"type": "text", "align": "right", "fontWeight": "bold"}, "encoding": {"x": {"datum": 409, "type": "quantitative", "scale": {"domain": [0, 740], "nice": false, "zero": false}, "axis": null}, "text": {"field": "s2"}}},
{"transform": [{"filter": "datum.t=='study'||datum.t=='pool'"}], "mark": {"type": "text", "align": "right"}, "encoding": {"x": {"datum": 602, "type": "quantitative", "scale": {"domain": [0, 740], "nice": false, "zero": false}, "axis": null}, "text": {"field": "smd"}}},
{"transform": [{"filter": "datum.t=='hdr'||datum.t=='all'"}], "mark": {"type": "text", "align": "right", "fontWeight": "bold"}, "encoding": {"x": {"datum": 602, "type": "quantitative", "scale": {"domain": [0, 740], "nice": false, "zero": false}, "axis": null}, "text": {"field": "smd"}}},
{"transform": [{"filter": "datum.t=='study'||datum.t=='pool'"}], "mark": {"type": "text", "align": "left"}, "encoding": {"x": {"datum": 613, "type": "quantitative", "scale": {"domain": [0, 740], "nice": false, "zero": false}, "axis": null}, "text": {"field": "ci"}}},
{"transform": [{"filter": "datum.t=='all'"}], "mark": {"type": "text", "align": "left", "fontWeight": "bold"}, "encoding": {"x": {"datum": 613, "type": "quantitative", "scale": {"domain": [0, 740], "nice": false, "zero": false}, "axis": null}, "text": {"field": "ci"}}},
{"transform": [{"filter": "datum.t=='hdr'"}], "mark": {"type": "text", "align": "right", "fontWeight": "bold"}, "encoding": {"x": {"datum": 682.5, "type": "quantitative", "scale": {"domain": [0, 740], "nice": false, "zero": false}, "axis": null}, "text": {"field": "ci"}}},
{"transform": [{"filter": "datum.t=='study'||datum.t=='pool'"}], "mark": {"type": "text", "align": "right"}, "encoding": {"x": {"datum": 717, "type": "quantitative", "scale": {"domain": [0, 740], "nice": false, "zero": false}, "axis": null}, "text": {"field": "w"}}},
{"transform": [{"filter": "datum.t=='all'"}], "mark": {"type": "text", "align": "right", "fontWeight": "bold"}, "encoding": {"x": {"datum": 717, "type": "quantitative", "scale": {"domain": [0, 740], "nice": false, "zero": false}, "axis": null}, "text": {"field": "w"}}},
{"transform": [{"filter": "datum.t=='hdr'"}], "mark": {"type": "text", "align": "right", "fontWeight": "bold"}, "encoding": {"x": {"datum": 717, "type": "quantitative", "scale": {"domain": [0, 740], "nice": false, "zero": false}, "axis": null}, "text": {"field": "w"}, "size": {"value": 9.5}}}
]
},
{
"resolve": {"scale": {"size": "independent"}},
"layer": [
{"transform": [{"filter": "datum.t=='all'"}], "mark": {"type": "rule", "color": "#555555", "strokeWidth": 1.3}, "encoding": {"x": {"datum": 0, "type": "quantitative", "scale": {"domain": [-30, 30], "range": [421.7, 562.7], "nice": false, "zero": false}, "axis": {"values": [-30, -20, -10, 0, 10, 20, 30], "offset": -38, "title": null, "grid": false, "tickSize": 7, "tickWidth": 1, "tickColor": "#000000", "domainColor": "#000000", "domainWidth": 1, "labelColor": "#000000", "labelFontSize": 11, "labelFont": "Liberation Sans", "labelPadding": 8, "labelFlush": false, "labelOverlap": false, "labelExpr": "replace(datum.label, '\u2212', '-')"}}, "y": {"datum": -0.65, "type": "quantitative", "axis": null}, "y2": {"datum": 50.37}}},
{"transform": [{"filter": "datum.t=='all'"}], "mark": {"type": "rule", "color": "#000000", "strokeWidth": 1, "strokeDash": [2, 2]}, "encoding": {"x": {"field": "est", "type": "quantitative", "axis": {"title": null}}, "y": {"datum": -0.65, "type": "quantitative", "axis": null}, "y2": {"datum": 50.37}}},
{"transform": [{"filter": "datum.t=='study'"}], "mark": {"type": "rule", "color": "#000000", "strokeWidth": 1}, "encoding": {"x": {"field": "lo", "type": "quantitative", "axis": {"title": null}}, "x2": {"field": "hi"}}},
{"transform": [{"filter": "datum.t=='study'"}], "mark": {"type": "point", "shape": "square", "filled": true, "color": "#000000", "opacity": 1, "strokeWidth": 0}, "encoding": {"x": {"field": "est", "type": "quantitative", "axis": {"title": null}}, "size": {"field": "wt", "type": "quantitative", "scale": {"domain": [0, 4], "range": [0, 132]}, "legend": null}}},
{"transform": [{"filter": "datum.t=='study' && (datum.hi-datum.lo)*2.35 < sqrt(33*datum.wt)"}], "mark": {"type": "rule", "color": "#ffffff", "strokeWidth": 1}, "encoding": {"x": {"field": "lo", "type": "quantitative", "axis": {"title": null}}, "x2": {"field": "hi"}}},
{"transform": [{"filter": "datum.t=='study' && (datum.hi-datum.lo)*2.35 < sqrt(33*datum.wt)"}], "mark": {"type": "point", "shape": "M0,-1L0,1", "filled": false, "stroke": "#ffffff", "strokeWidth": 1, "opacity": 1}, "encoding": {"x": {"field": "est", "type": "quantitative", "axis": {"title": null}}, "size": {"value": 16}}},
{"transform": [{"filter": "datum.t=='pool'||datum.t=='all'"}], "mark": {"type": "point", "shape": "M-0.85,0L0,-1L0.85,0L0,1Z", "filled": true, "color": "#1f3fd0", "opacity": 1, "strokeWidth": 0}, "encoding": {"x": {"field": "est", "type": "quantitative", "axis": {"title": null}}, "size": {"value": 64}}}
]
}
]
}
]
}
